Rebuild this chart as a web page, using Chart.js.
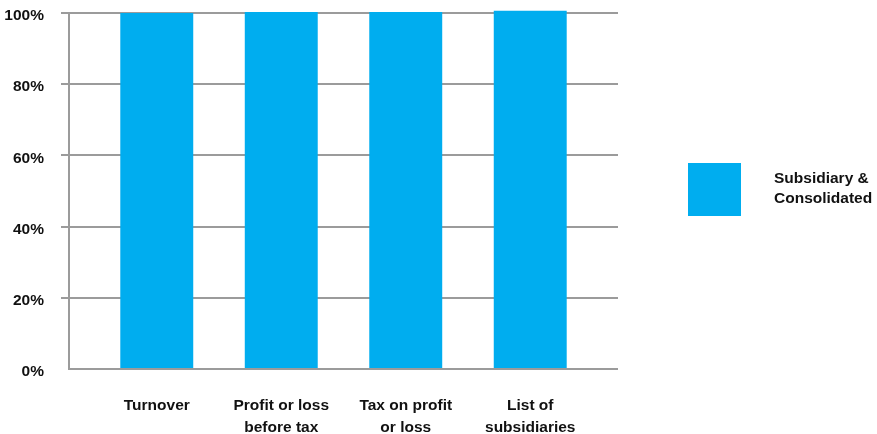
<!DOCTYPE html>
<html>
<head>
<meta charset="utf-8">
<script src="https://cdn.jsdelivr.net/npm/chart.js@4"></script>
<style>
  html, body { margin: 0; padding: 0; background: #fff; }
</style>
</head>
<body>
<canvas id="chart" width="877" height="434"></canvas>
<script>
// categories and values
const categories = [
  ["Turnover"],
  ["Profit or loss", "before tax"],
  ["Tax on profit", "or loss"],
  ["List of", "subsidiaries"]
];
const seriesName = ["Subsidiary &", "Consolidated"];
const seriesValues = [100, 100.3, 100.3, 100.6];
const yTicks = [0, 20, 40, 60, 80, 100];

const barColor = "#00ADEF";
const gridColor = "#9b9b9b";
const fontFamily = "'Liberation Sans', Arial, sans-serif";
const fontSize = 15.5;

// legend drawn at the right side, two-line label next to a big swatch
const sideLegend = {
  id: "sideLegend",
  afterDraw(chart) {
    const { ctx } = chart;
    const ds = chart.data.datasets[0];
    ctx.save();
    ctx.fillStyle = ds.backgroundColor;
    ctx.fillRect(688, 163, 53, 53);
    ctx.fillStyle = "#111";
    ctx.font = "bold " + fontSize + "px " + fontFamily;
    ctx.textBaseline = "middle";
    ctx.textAlign = "left";
    ds.label.forEach((line, i) => ctx.fillText(line, 774, 179 + i * 20));
    ctx.restore();
  }
};

new Chart(document.getElementById("chart"), {
  type: "bar",
  data: {
    datasets: [{
      label: seriesName,
      data: seriesValues.map((v, i) => ({ x: i, y: v })),
      backgroundColor: barColor,
      barPercentage: 1,
      categoryPercentage: 0.586,
      clip: false
    }]
  },
  options: {
    responsive: false,
    animation: false,
    devicePixelRatio: 1,
    layout: { padding: { top: 13, right: 259, bottom: 0, left: 0 } },
    plugins: { legend: { display: false }, tooltip: { enabled: false } },
    scales: {
      x: {
        type: "linear",
        offset: false,
        min: -0.705,
        max: categories.length - 1 + 0.705,
        afterBuildTicks: scale => {
          scale.ticks = categories.map((_, i) => ({ value: i }));
        },
        afterFit: scale => {
          scale.height = 65;
          scale.paddingLeft = 0;
          scale.paddingRight = 0;
        },
        ticks: {
          autoSkip: false,
          maxRotation: 0,
          padding: 18,
          color: "#111",
          font: { family: fontFamily, size: fontSize, weight: "bold", lineHeight: 1.4 },
          callback: v => categories[v]
        },
        grid: { display: false, offset: false },
        border: { display: false }
      },
      y: {
        min: 0,
        max: 100,
        afterBuildTicks: scale => {
          scale.ticks = yTicks.map(v => ({ value: v }));
        },
        afterFit: scale => {
          scale.width = 69;
          scale.paddingTop = 0;
          scale.paddingBottom = 0;
        },
        ticks: {
          padding: 17,
          labelOffset: 3,
          color: "#111",
          font: { family: fontFamily, size: fontSize, weight: "bold" },
          callback: v => v + "%"
        },
        grid: {
          color: gridColor,
          lineWidth: 2,
          tickLength: 8,
          tickColor: ctx => ctx.tick && ctx.tick.value === 0 ? "rgba(0,0,0,0)" : gridColor
        },
        border: { display: true, color: gridColor, width: 2 }
      }
    }
  },
  plugins: [sideLegend]
});
</script>
</body>
</html>
